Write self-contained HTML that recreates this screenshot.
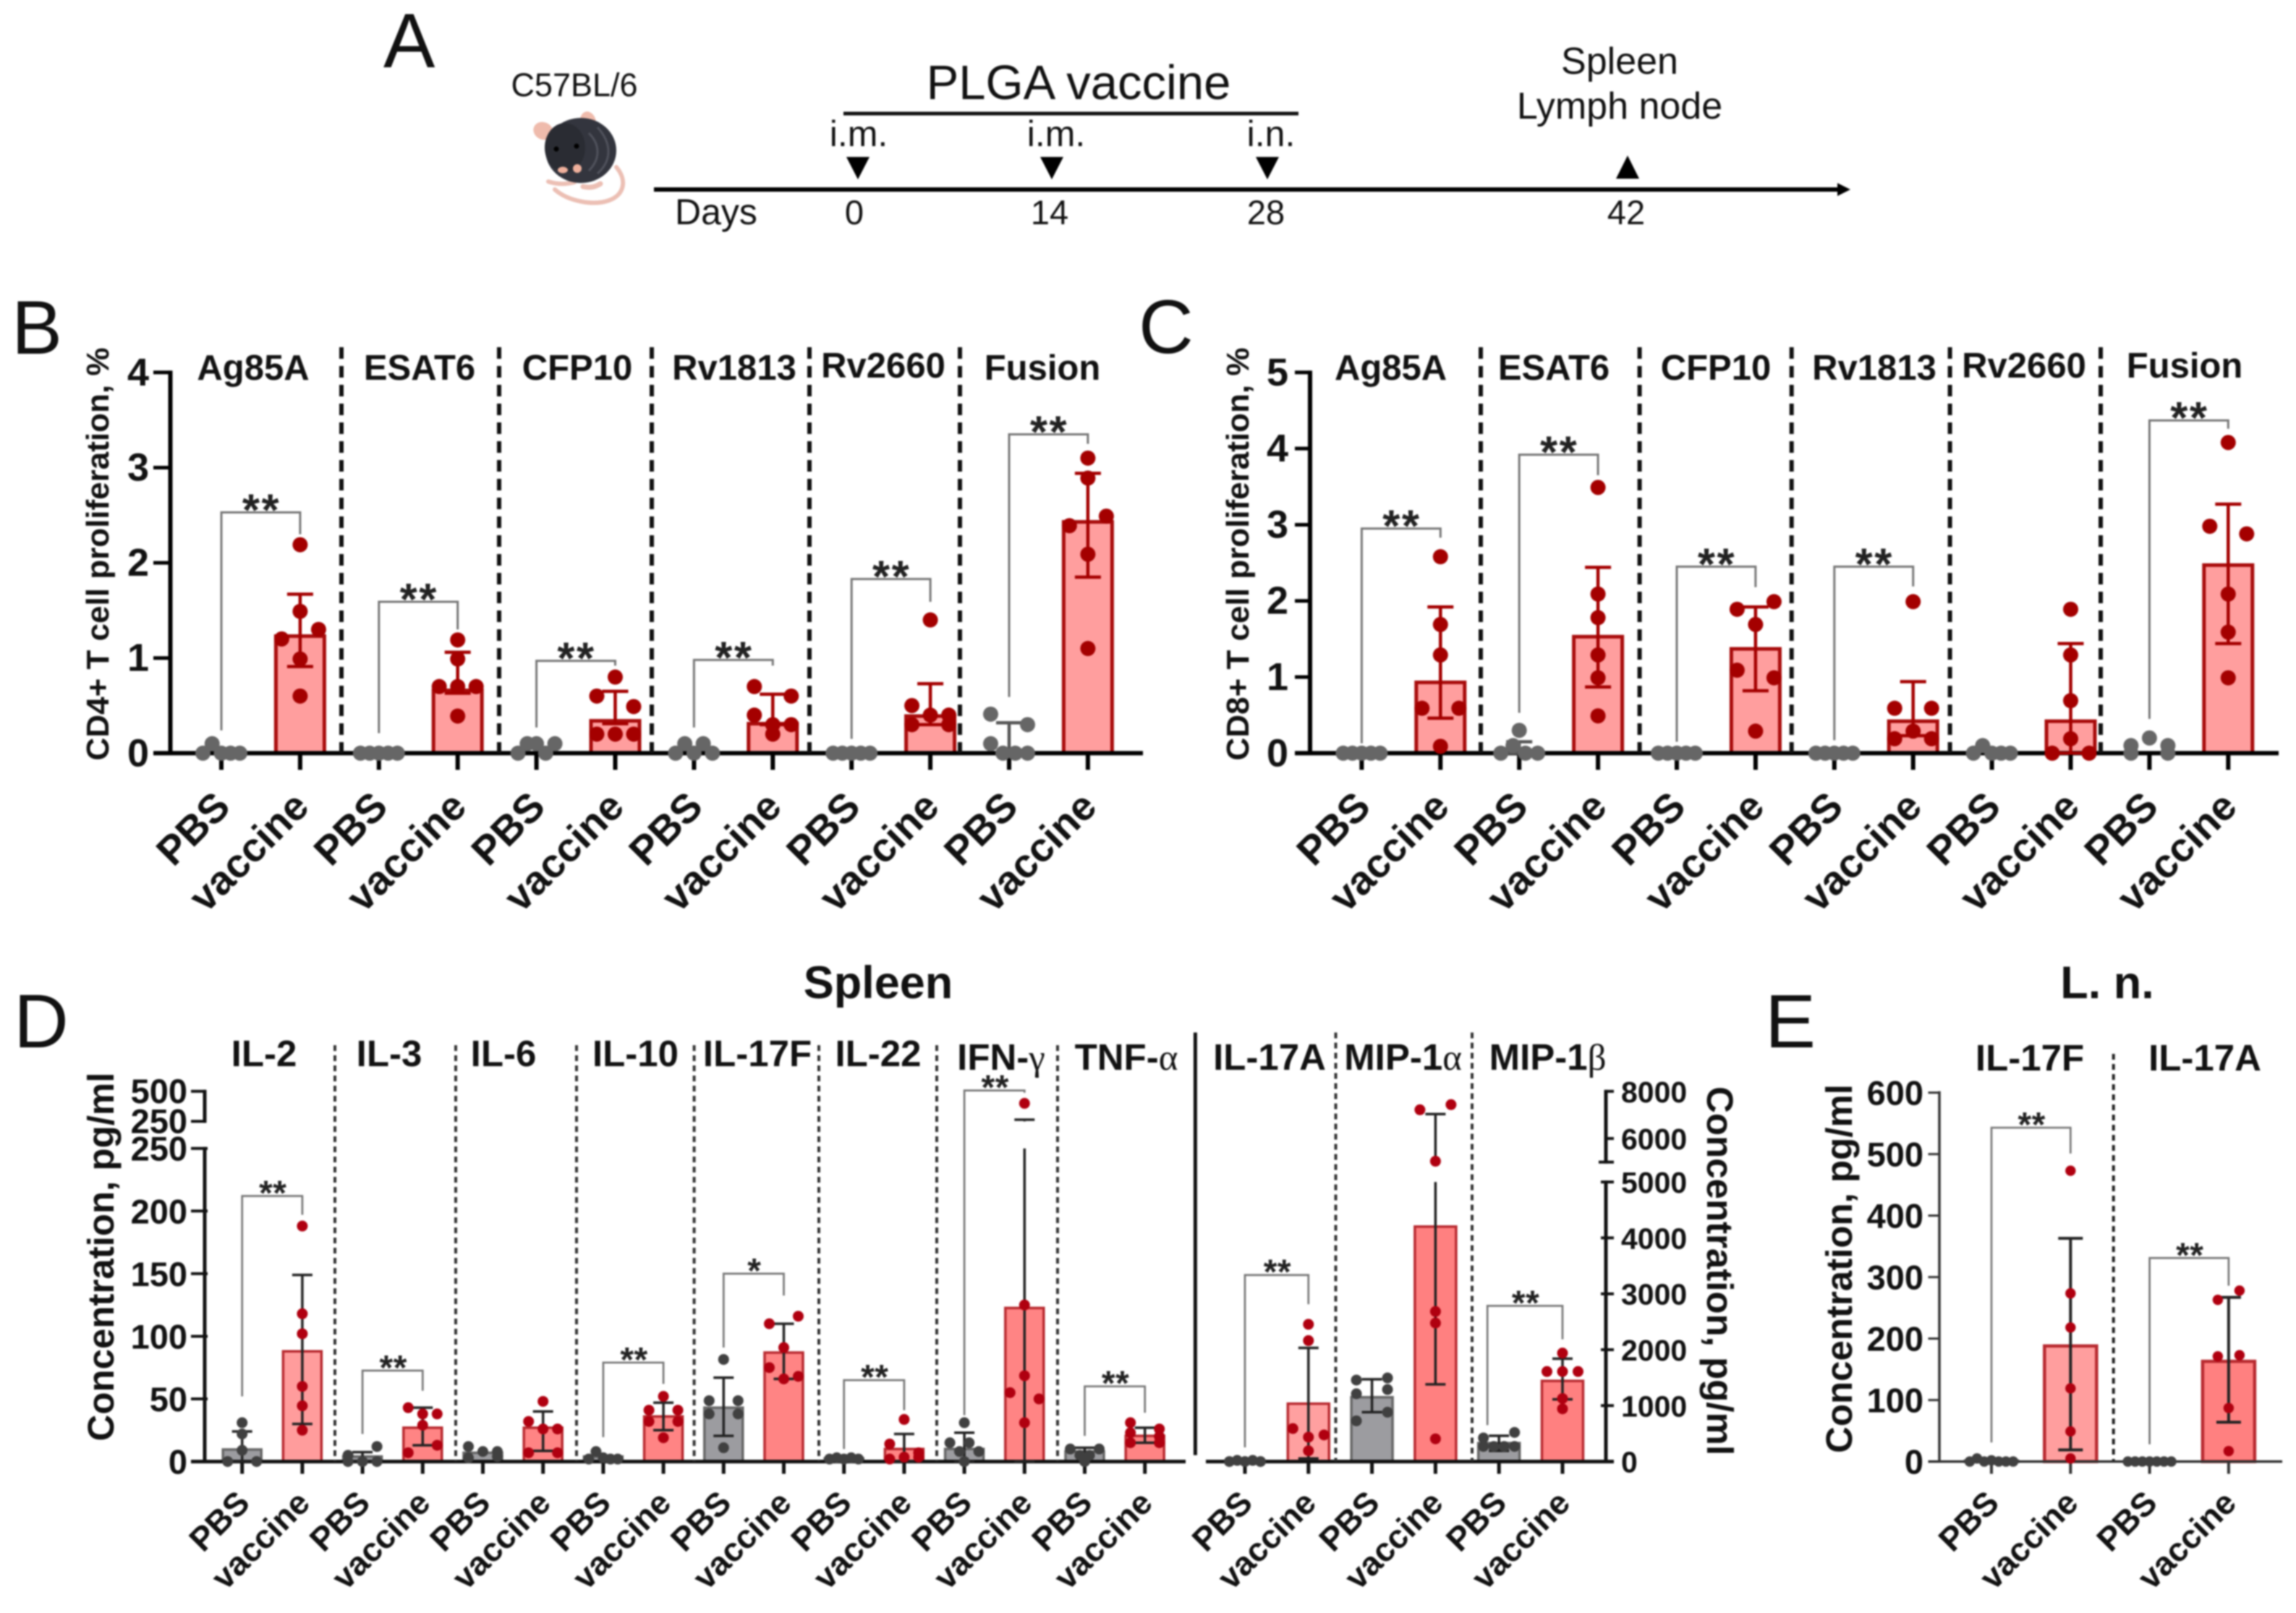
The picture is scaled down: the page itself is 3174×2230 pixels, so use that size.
<!DOCTYPE html>
<html lang="en">
<head>
<meta charset="utf-8">
<title>PLGA vaccine immunogenicity figure</title>
<style>
html,body{margin:0;padding:0;background:#fff;}
svg{display:block;filter:blur(1px);}
text{font-family:"Liberation Sans",Arial,sans-serif;fill:#111;}
</style>
</head>
<body>
<svg id="figure" xmlns="http://www.w3.org/2000/svg" width="3174" height="2230" viewBox="0 0 3174 2230">
<rect x="0" y="0" width="3174" height="2230" fill="#fff"/>

<!-- Panel letters -->
<text x="530" y="93" font-size="107">A</text>
<text x="16" y="489" font-size="105">B</text>
<text x="1574" y="488" font-size="105">C</text>
<text x="19" y="1448" font-size="105">D</text>
<text x="2440" y="1448" font-size="105">E</text>

<!-- Panel A timeline -->
<g>
  <text x="794" y="133" font-size="45" text-anchor="middle">C57BL/6</text>
  <g>
    <path d="M852 231 C868 250 862 270 842 277 C820 285 785 278 767 262" fill="none" stroke="#ecbfb4" stroke-width="6" stroke-linecap="round"/>
    <path d="M758 251 C770 255 782 255 794 252" fill="none" stroke="#ecbfb4" stroke-width="6" stroke-linecap="round"/>
    <path d="M806 258 C815 260 822 259 830 254" fill="none" stroke="#ecbfb4" stroke-width="7" stroke-linecap="round"/>
    <ellipse cx="751" cy="181" rx="14" ry="12" fill="#efbbac" transform="rotate(25 751 181)"/>
    <ellipse cx="813" cy="169" rx="11" ry="15" fill="#efbbac" transform="rotate(-12 813 169)"/>
    <ellipse cx="803" cy="208" rx="49" ry="45" fill="#33353e"/>
    <ellipse cx="781" cy="204" rx="28" ry="34" fill="#2a2c33"/>
    <path d="M826 176 C846 198 846 222 826 240 M814 184 C830 200 830 220 814 236" fill="none" stroke="#50525c" stroke-width="3"/>
    <circle cx="769" cy="206" r="3.5" fill="#000"/>
    <circle cx="797" cy="202" r="3.5" fill="#000"/>
    <ellipse cx="778" cy="235" rx="7" ry="4.5" fill="#efb09c"/>
    <ellipse cx="798" cy="233" rx="6" ry="6" fill="#efb09c"/>
  </g>
  <text x="1491" y="137" font-size="67" text-anchor="middle">PLGA vaccine</text>
  <line x1="1166" y1="157" x2="1795" y2="157" stroke="#111" stroke-width="5"/>
  <text x="1187" y="202" font-size="50" text-anchor="middle">i.m.</text>
  <text x="1460" y="202" font-size="50" text-anchor="middle">i.m.</text>
  <text x="1757" y="202" font-size="50" text-anchor="middle">i.n.</text>
  <polygon points="1170,217 1202,217 1186,248" fill="#000"/>
  <polygon points="1438,217 1470,217 1454,248" fill="#000"/>
  <polygon points="1736,217 1768,217 1752,248" fill="#000"/>
  <polygon points="2234,247 2266,247 2250,215" fill="#000"/>
  <line x1="904" y1="262" x2="2544" y2="262" stroke="#000" stroke-width="6"/>
  <polygon points="2540,253 2558,262 2540,271" fill="#000"/>
  <text x="933" y="310" font-size="50">Days</text>
  <text x="1181" y="310" font-size="47" text-anchor="middle">0</text>
  <text x="1451" y="310" font-size="47" text-anchor="middle">14</text>
  <text x="1750" y="310" font-size="47" text-anchor="middle">28</text>
  <text x="2248" y="310" font-size="47" text-anchor="middle">42</text>
  <text x="2239" y="102" font-size="52" text-anchor="middle">Spleen</text>
  <text x="2239" y="164" font-size="52" text-anchor="middle">Lymph node</text>
</g>

<text x="1214" y="1380" font-size="63" font-weight="700" text-anchor="middle">Spleen</text>
<text x="2913" y="1380" font-size="63" font-weight="700" text-anchor="middle">L. n.</text>
</svg>

<script>
/* ---------- Panel B: CD4+ proliferation ---------- */
const bLabels = ['Ag85A','ESAT6','CFP10','Rv1813','Rv2660','Fusion'];
const bTicks = [0,1,2,3,4];
const bPbsPoints = [[0,0.1,0,0,0],[0,0,0,0,0],[0,0.1,0.1,0,0.1],[0,0.1,0,0.1,0],[0,0,0,0,0],[0.1,0.41,0,0,0.3,0]];
const bPbsMean = [0.02,0,0.05,0.04,0,0.13];
const bPbsHigh = [null,null,null,null,null,0.32];
const bPbsLow = [null,null,null,null,null,0];
const bVacSets = [
  [2.19,1.49,1.2,1.3,0.99,0.6],
  [1.19,0.99,0.7,0.7,0.7,0.39],
  [0.8,0.6,0.49,0.2,0.2,0.2],
  [0.7,0.6,0.4,0.2,0.3,0.3],
  [1.4,0.5,0.3,0.4,0.3,0.4],
  [3.1,2.89,2.39,2.49,2.09,1.1]
];
const bVacMean = [1.23,0.66,0.34,0.31,0.39,2.43];
const bVacHigh = [1.67,1.06,0.65,0.62,0.73,2.94];
const bVacLow = [0.91,0.63,0.31,0.3,0.3,1.85];
const bBracketTop = [2.53,1.59,0.97,0.98,1.83,3.35];
const bBracketLeft = [0.24,0.21,0.27,0.27,0.15,0.59];
const bBracketRight = [2.3,1.3,0.92,0.92,1.59,3.25];
const bStars = ['**','**','**','**','**','**'];

/* ---------- Panel C: CD8+ proliferation ---------- */
const cLabels = ['Ag85A','ESAT6','CFP10','Rv1813','Rv2660','Fusion'];
const cTicks = [0,1,2,3,4,5];
const cPbsPoints = [[0,0,0,0,0],[0,0.1,0.3,0,0],[0,0,0,0,0],[0,0,0,0,0],[0,0.1,0,0,0],[0,0.1,0.2,0.1,0]];
const cPbsMean = [0,0.08,0,0,0.02,0.08];
const cPbsHigh = [null,0.15,null,null,null,null];
const cPbsLow = [null,0,null,null,null,null];
const cVacSets = [
  [2.58,1.69,1.29,0.59,0.59,0.09],
  [3.49,2.09,1.78,1.29,0.99,0.49],
  [1.89,1.99,1.69,1.09,0.99,0.29],
  [1.99,0.59,0.59,0.19,0.29,0.19],
  [1.89,1.29,0.69,0.19,0,0],
  [4.08,2.98,2.88,2.09,1.59,0.99]
];
const cVacMean = [0.93,1.53,1.37,0.42,0.42,2.47];
const cVacHigh = [1.92,2.44,1.92,0.94,1.44,3.27];
const cVacLow = [0.46,0.87,0.82,0.23,0,1.44];
const cBracketTop = [2.95,3.92,2.45,2.45,null,4.37];
const cBracketLeft = [0.13,0.53,0.15,0.17,null,0.45];
const cBracketRight = [2.83,3.65,2.18,2.19,null,4.26];
const cStars = ['**','**','**','**',null,'**'];

/* ---------- Panel D, left axis ---------- */
const dlLabels = ['IL-2','IL-3','IL-6','IL-10','IL-17F','IL-22','IFN-γ','TNF-α'];
const dlLowerTicks = [0,50,100,150,200,250];
const dlUpperTicks = [250,500];
const dlPbsPoints = [
  [0,31,22,9,0],[0,5,0,12,0],[12,3,8,4,8],[2,8,3,2,2],
  [48.6,38,81.5,11,38,48.6],[2,3,2,3,2],[15,8,31,0,15,8],[10,5,0,5,10]
];
const dlPbsMean = [9.6,4,7,4,43,2.5,10,8];
const dlPbsHigh = [24,7.5,null,null,67,null,23,11];
const dlPbsLow = [0,0,null,null,20.5,null,0,5];
const dlVacSets = [
  [188,118,102,60,44.5,25],
  [43,38,38,29,7,13],
  [48,32,26,26,7,7],
  [52,41,41,32,32,19],
  [110,116,91,75,66,68],
  [33.6,14,2,7,3.5,3.5],
  [400,125,68.5,55,50,31],
  [31,26,23,20,15,15]
];
const dlVacMean = [88,27,27,36,87,10,122.6,20.5];
const dlVacHigh = [149,43,40,47,110,22,264,27];
const dlVacLow = [30,13,8.5,25,66,0,0,15];
const dlBracketTop = [212,72.6,null,79,150,65,507,60];
const dlBracketLeft = [52,22,null,19.5,91,10,37,20.5];
const dlBracketRight = [197,56.5,null,62,132.5,41,488,39];
const dlStars = ['**','**',null,'**','*','**','**','**'];

/* ---------- Panel D, right axis ---------- */
const drLabels = ['IL-17A','MIP-1α','MIP-1β'];
const drLowerTicks = [0,1000,2000,3000,4000,5000];
const drUpperTicks = [6000,8000];
const drPbsPoints = [[0,20,0,20,0],[1457,1495,728,882,1212,1288],[270,422,270,521,270,270]];
const drPbsMean = [10,1150,330];
const drPbsHigh = [null,1472,460];
const drPbsLow = [null,882,190];
const drVacSets = [
  [2454,2163,590,437,475,192],
  [7218,7436,5036,2684,2477,406],
  [1940,1610,1610,1610,943,1127]
];
const drVacMean = [1035,4202,1442];
const drVacHigh = [2032,7036,1840];
const drVacLow = [54,1380,1112];
const drBracketTop = [3336,null,2784];
const drBracketLeft = [253,null,652];
const drBracketRight = [2814,null,2186];
const drStars = ['**',null,'**'];

/* ---------- Panel E: lymph node ---------- */
const eLabels = ['IL-17F','IL-17A'];
const eTicks = [0,100,200,300,400,500,600];
const ePbsPoints = [[0,5,0,2,0,0,0],[0,0,0,0,0,0,0]];
const ePbsMean = [1,0];
const ePbsHigh = [null,null];
const ePbsLow = [null,null];
const eVacSets = [[473,273.5,218,119,49,5],[263,278,171,173,87,17]];
const eVacMean = [188,163];
const eVacHigh = [363,267];
const eVacLow = [19,64];
const eBracketTop = [543,331];
const eBracketLeft = [31,28];
const eBracketRight = [501,286];
const eStars = ['**','**'];

/* ---------- axis functions ---------- */
const NS = 'http://www.w3.org/2000/svg';
const root = document.getElementById('figure');
const yB = v => 1041.3 - 131.6 * v;
const yC = v => 1041.3 - 105.28 * v;
const yDlLower = v => 2020.6 - 1.7316 * v;
const yDlUpper = v => 1550.3 - (v - 250) * 0.166;
const yDl = v => v > 250 ? yDlUpper(v) : yDlLower(v);
const yDrLower = v => 2020.6 - 0.0773 * v;
const yDrUpper = v => 1606.6 - (v - 5000) * 0.0326;
const yDr = v => v > 5000 ? yDrUpper(v) : yDrLower(v);
const yE = v => 2020.6 - 0.85 * v;

function mk(parent, tag, attrs) {
  const el = document.createElementNS(NS, tag);
  for (const k in attrs) el.setAttribute(k, attrs[k]);
  parent.appendChild(el);
  return el;
}
function line(parent, x1, y1, x2, y2, color, width, dash) {
  const el = mk(parent, 'line', {x1, y1, x2, y2, stroke: color, 'stroke-width': width});
  if (dash) el.setAttribute('stroke-dasharray', dash);
  return el;
}
function text(parent, str, x, y, size, opts) {
  const o = opts || {};
  const el = mk(parent, 'text', {'font-size': size, 'text-anchor': o.anchor || 'middle'});
  if (o.rotate !== undefined) {
    el.setAttribute('transform', 'translate(' + x + ',' + y + ') rotate(' + o.rotate + ')');
  } else {
    el.setAttribute('x', x);
    el.setAttribute('y', y);
  }
  if (o.weight !== 400) el.setAttribute('font-weight', '700');
  if (o.spacing) el.setAttribute('letter-spacing', o.spacing);
  if (o.fill) el.style.fill = o.fill;
  const last = str[str.length - 1];
  if ('αβγ'.includes(last)) {
    el.appendChild(document.createTextNode(str.slice(0, -1)));
    const t = mk(el, 'tspan', {'font-weight': '400'});
    t.style.fontFamily = '"Liberation Serif",serif';
    t.textContent = last;
  } else {
    el.textContent = str;
  }
  return el;
}

/* Lays out dots in rows: values that land close together share a row and spread evenly. */
function swarm(values, y, threshold, spread) {
  const order = values.map((v, i) => i).sort((a, b) => y(values[a]) - y(values[b]));
  const offsets = new Array(values.length).fill(0);
  let bin = [];
  let top = null;
  const flush = () => {
    bin.sort((a, b) => a - b);
    const n = bin.length;
    const width = spread(n);
    bin.forEach((idx, k) => { offsets[idx] = n === 1 ? 0 : (k / (n - 1) - 0.5) * width; });
    bin = [];
  };
  order.forEach(i => {
    if (top !== null && y(values[i]) - top > threshold) { flush(); top = null; }
    if (top === null) top = y(values[i]);
    bin.push(i);
  });
  flush();
  return offsets;
}

function drawError(layer, x, mean, hi, lo, p, color) {
  const g = mk(layer, 'g', {});
  
  
  if (p.brk !== undefined && hi > p.brk) {
    line(g, x, p.y(hi), x, p.upperBottom, color, p.errW);
    line(g, x, p.lowerTop, x, p.y(lo), color, p.errW);
  } else {
    line(g, x, p.y(hi), x, p.y(lo), color, p.errW);
  }
  line(g, x - p.cap, p.y(hi), x + p.cap, p.y(hi), color, p.errW);
  line(g, x - p.cap, p.y(lo), x + p.cap, p.y(lo), color, p.errW);
}

function drawPanel(p) {
  const bars = mk(root, 'g', {});
  
  
  const axes = mk(root, 'g', {});
  
  
  const marks = mk(root, 'g', {});
  
  
  const labelLayer = mk(root, 'g', {});
  
  
  const y0 = p.y(0);

  /* x axis with tick marks and rotated group labels */
  const xAxis = line(axes, p.axisStart, y0, p.axisEnd, y0, p.axisColor, p.axisW);
  
  

  p.labels.forEach((label, i) => {
    const xP = p.x0 + 2 * i * p.step;
    const xV = xP + p.step;

    [[xP, 'PBS'], [xV, 'vaccine']].forEach(pair => {
      const tick = line(axes, pair[0], y0, pair[0], y0 + p.tickLen, p.axisColor, p.tickW);
      
      
      const tl = text(labelLayer, pair[1], pair[0] + p.labelDx, y0 + p.labelDy, p.labelSize, {anchor: 'end', rotate: -45});
      
      
    });

    /* bars */
    const barP = mk(bars, 'rect', {x: xP - p.barW / 2, y: p.y(p.pbsMean[i]), width: p.barW, height: y0 - p.y(p.pbsMean[i]), fill: p.pbsFill, stroke: p.pbsStroke, 'stroke-width': p.barStrokeW});
    
    
    const barV = mk(bars, 'rect', {x: xV - p.barW / 2, y: p.y(p.vacMean[i]), width: p.barW, height: y0 - p.y(p.vacMean[i]), fill: p.vacFill(i), stroke: p.vacStroke, 'stroke-width': p.barStrokeW});
    
    

    /* error bars */
    if (p.pbsHigh[i] !== null) drawError(marks, xP, p.pbsMean[i], p.pbsHigh[i], p.pbsLow[i], p, p.pbsErr);
    drawError(marks, xV, p.vacMean[i], p.vacHigh[i], p.vacLow[i], p, p.vacErr);

    /* dots */
    const pbsOff = swarm(p.pbsPoints[i], p.y, p.binPx, p.spread);
    p.pbsPoints[i].forEach((v, k) => {
      const dot = mk(marks, 'circle', {cx: xP + pbsOff[k], cy: p.y(v), r: p.r, fill: p.pbsDot});
      
      
    });
    const vacOff = swarm(p.vacPoints[i], p.y, p.binPx, p.spread);
    p.vacPoints[i].forEach((v, k) => {
      const dot = mk(marks, 'circle', {cx: xV + vacOff[k], cy: p.y(v), r: p.r, fill: p.vacDot});
      
      
    });

    /* significance bracket */
    if (p.bracketTop[i] !== null) {
      const top = p.y(p.bracketTop[i]);
      const xL = xP + (p.bracketNudge ? p.bracketNudge(i) : 0);
      const br = mk(marks, 'polyline', {
        points: xL + ',' + p.y(p.bracketLeft[i]) + ' ' + xL + ',' + top + ' ' + xV + ',' + top + ' ' + xV + ',' + p.y(p.bracketRight[i]),
        fill: 'none', stroke: '#777', 'stroke-width': p.bracketW
      });
      
      
      const st = text(labelLayer, p.stars[i], (xL + xV) / 2 + 1, top + p.starDy, p.starSize, {spacing: p.starSpacing, fill: '#222'});
      
      
    }
  });
}

function drawTitles(labels, centers, baselines, size, spacing) {
  labels.forEach((label, i) => {
    const t = text(root, label, centers[i], baselines[i], size, {spacing});
    
    
  });
}
function drawDividers(xs, y1, y2, color, width, dash) {
  xs.forEach(x => {
    const d = line(root, x, y1, x, y2, color, width, dash);
    
    
  });
}
function drawYAxis(ticks, y, axisX, tickStart, labelX, labelDy, size, color, axisW, anchor) {
  const ys = ticks.map(y);
  ticks.forEach((t, i) => {
    const m = line(root, tickStart, ys[i], axisX, ys[i], color, axisW - 1);
    
    
    const l = text(root, String(t), labelX, ys[i] + labelDy, size, {anchor});
    
    
  });
}
function drawYSpine(x, y1, y2, color, width) {
  const s = line(root, x, y1, x, y2, color, width);
  
  
}
function drawYTitle(str, x, y, size, rotate) {
  const t = text(root, str, x, y, size, {rotate});
  
  
}

const bcStyle = {
  step: 108.9, barW: 67, barStrokeW: 5, axisColor: '#000', axisW: 6, tickW: 6, tickLen: 23,
  labelDx: 15, labelDy: 77, labelSize: 56, pbsFill: 'none', pbsStroke: 'none', vacStroke: '#a80c0c',
  vacFill: () => '#ff9e9e', pbsErr: '#555', vacErr: '#a40000', errW: 4.5, cap: 18, r: 10.5,
  pbsDot: '#666', vacDot: '#a40000', binPx: 16, spread: () => 51, bracketW: 3,
  starDy: 18, starSize: 62, starSpacing: 2.5
};

/* Panel B */
drawPanel(Object.assign({}, bcStyle, {
  y: yB, x0: 306, axisStart: 212, axisEnd: 1580, labels: bLabels,
  pbsPoints: bPbsPoints, pbsMean: bPbsMean, pbsHigh: bPbsHigh, pbsLow: bPbsLow,
  vacPoints: bVacSets, vacMean: bVacMean, vacHigh: bVacHigh, vacLow: bVacLow,
  bracketTop: bBracketTop, bracketLeft: bBracketLeft, bracketRight: bBracketRight, stars: bStars
}));
drawYSpine(235.5, yB(4) - 2.5, yB(0), '#000', 6);
drawYAxis(bTicks, yB, 235, 212, 206, 18, 54, '#000', 6, 'end');
drawYTitle('CD4+ T cell proliferation, %', 150, 766, 44, -90);
drawTitles(bLabels, [350, 580, 798, 1015, 1221, 1441], [525, 525, 525, 525, 522, 525], 49, 0);
drawDividers([472, 690, 901, 1119, 1327], 480, 1041, '#111', 6, '16 10');

/* Panel C */
drawPanel(Object.assign({}, bcStyle, {
  y: yC, x0: 1882.4, axisStart: 1790, axisEnd: 3150, labels: cLabels,
  pbsPoints: cPbsPoints, pbsMean: cPbsMean, pbsHigh: cPbsHigh, pbsLow: cPbsLow,
  vacPoints: cVacSets, vacMean: cVacMean, vacHigh: cVacHigh, vacLow: cVacLow,
  bracketTop: cBracketTop, bracketLeft: cBracketLeft, bracketRight: cBracketRight, stars: cStars
}));
drawYSpine(1811, yC(5) - 2.5, yC(0), '#000', 6);
drawYAxis(cTicks, yC, 1811, 1790, 1781, 18, 54, '#000', 6, 'end');
drawYTitle('CD8+ T cell proliferation, %', 1726, 766, 44, -90);
drawTitles(cLabels, [1922.6, 2148, 2372, 2591, 2798, 3020], [525, 525, 525, 525, 522, 522], 49, 0);
drawDividers([2047, 2266.6, 2476.7, 2695.6, 2904], 480, 1041, '#111', 6, '16 10');

const dStyle = {
  barStrokeW: 3.5, axisColor: '#111', axisW: 5, tickW: 5, tickLen: 17,
  labelDx: 13, labelDy: 60, labelSize: 46, pbsFill: '#9c9ca0', pbsStroke: '#666', vacStroke: '#b82a30',
  pbsErr: '#222', vacErr: '#222', errW: 3.5, cap: 14, r: 7.5,
  pbsDot: '#404040', vacDot: '#b00010', binPx: 13, bracketW: 2.7,
  starDy: 12, starSize: 48, starSpacing: 0.5
};

/* Panel D left */
drawPanel(Object.assign({}, dStyle, {
  y: yDl, brk: 250, upperBottom: yDlUpper(250), lowerTop: yDlLower(250),
  x0: 334.7, step: 83.2, barW: 53, axisStart: 264, axisEnd: 1639, labels: dlLabels,
  vacFill: i => i === 0 ? '#ff9c9c' : '#ff8484', spread: () => 40,
  pbsPoints: dlPbsPoints, pbsMean: dlPbsMean, pbsHigh: dlPbsHigh, pbsLow: dlPbsLow,
  vacPoints: dlVacSets, vacMean: dlVacMean, vacHigh: dlVacHigh, vacLow: dlVacLow,
  bracketTop: dlBracketTop, bracketLeft: dlBracketLeft, bracketRight: dlBracketRight, stars: dlStars
}));
drawYSpine(283, yDlLower(250) - 2, yDlLower(0), '#111', 5);
drawYSpine(283, yDlUpper(500) - 2, yDlUpper(250) + 2, '#111', 5);
drawYAxis(dlLowerTicks, yDlLower, 287, 264, 259, 17, 47, '#111', 5, 'end');
drawYAxis(dlUpperTicks, yDlUpper, 285, 264, 259, 16, 47, '#111', 5, 'end');
drawYTitle('Concentration, pg/ml', 157, 1737.5, 51, -90);
drawTitles(dlLabels, [365, 538, 696, 878.5, 1047, 1214, 1384, 1557], [1474, 1474, 1474, 1474, 1474, 1474, 1479, 1479], 51, 0);
drawDividers([463, 630, 797, 959.6, 1132, 1295, 1462], 1445, 2020, '#333', 4, '8 6');
const solidDivider = line(root, 1652.4, 1427.5, 1652.4, 2011.7, '#111', 5);



/* Panel D right */
drawPanel(Object.assign({}, dStyle, {
  y: yDr, brk: 5000, upperBottom: yDrUpper(5000), lowerTop: yDrLower(5000),
  x0: 1721, step: 87.8, barW: 57, axisStart: 1667, axisEnd: 2231, labels: drLabels,
  vacFill: i => i === 0 ? '#ffa0a0' : '#ff8080', spread: () => 43,
  bracketNudge: i => i === 2 ? -16 : 0,
  pbsPoints: drPbsPoints, pbsMean: drPbsMean, pbsHigh: drPbsHigh, pbsLow: drPbsLow,
  vacPoints: drVacSets, vacMean: drVacMean, vacHigh: drVacHigh, vacLow: drVacLow,
  bracketTop: drBracketTop, bracketLeft: drBracketLeft, bracketRight: drBracketRight, stars: drStars
}));
drawYSpine(2220, yDrLower(5000) - 2, yDrLower(0), '#111', 5);
drawYSpine(2220, yDrUpper(8000) - 2, yDrUpper(5000) + 2, '#111', 5);
drawYAxis(drLowerTicks, yDrLower, 2213, 2231, 2241, 15, 41, '#111', 5, 'start');
drawYAxis(drUpperTicks, yDrUpper, 2220, 2231, 2241, 15, 41, '#111', 5, 'start');
const upperCap = line(root, 2210, yDrUpper(5000), 2231, yDrUpper(5000), '#111', 4);


drawYTitle('Concentration, pg/ml', 2360, 1757, 51, 90);
drawTitles(drLabels, [1755, 1939.6, 2139.6], [1479, 1479, 1479], 51, 0);
drawDividers([1846.5, 2035], 1427.5, 2020, '#333', 4, '8 6');

/* Panel E */
drawPanel(Object.assign({}, dStyle, {
  y: yE, x0: 2753, step: 109.3, barW: 72, axisStart: 2665.5, axisEnd: 3155, labels: eLabels,
  axisColor: '#333', axisW: 3.5, tickW: 4,
  barStrokeW: 4.5, cap: 17, r: 7.2, binPx: 14, errW: 4,
  vacFill: i => i === 0 ? '#ff9e9e' : '#ff8080', spread: n => n === 2 ? 30 : 60,
  pbsPoints: ePbsPoints, pbsMean: ePbsMean, pbsHigh: ePbsHigh, pbsLow: ePbsLow,
  vacPoints: eVacSets, vacMean: eVacMean, vacHigh: eVacHigh, vacLow: eVacLow,
  bracketTop: eBracketTop, bracketLeft: eBracketLeft, bracketRight: eBracketRight, stars: eStars
}));
drawYSpine(2681, yE(600) - 2, yE(0), '#333', 3.5);
drawYAxis(eTicks, yE, 2681, 2665.5, 2659, 17, 47, '#333', 4, 'end');
drawYTitle('Concentration, pg/ml', 2560, 1754, 51, -90);
drawTitles(eLabels, [2806, 3048], [1480, 1480], 51, 0);
drawDividers([2921.7], 1457, 2020, '#222', 4, '8 6');
</script>
</body>
</html>
